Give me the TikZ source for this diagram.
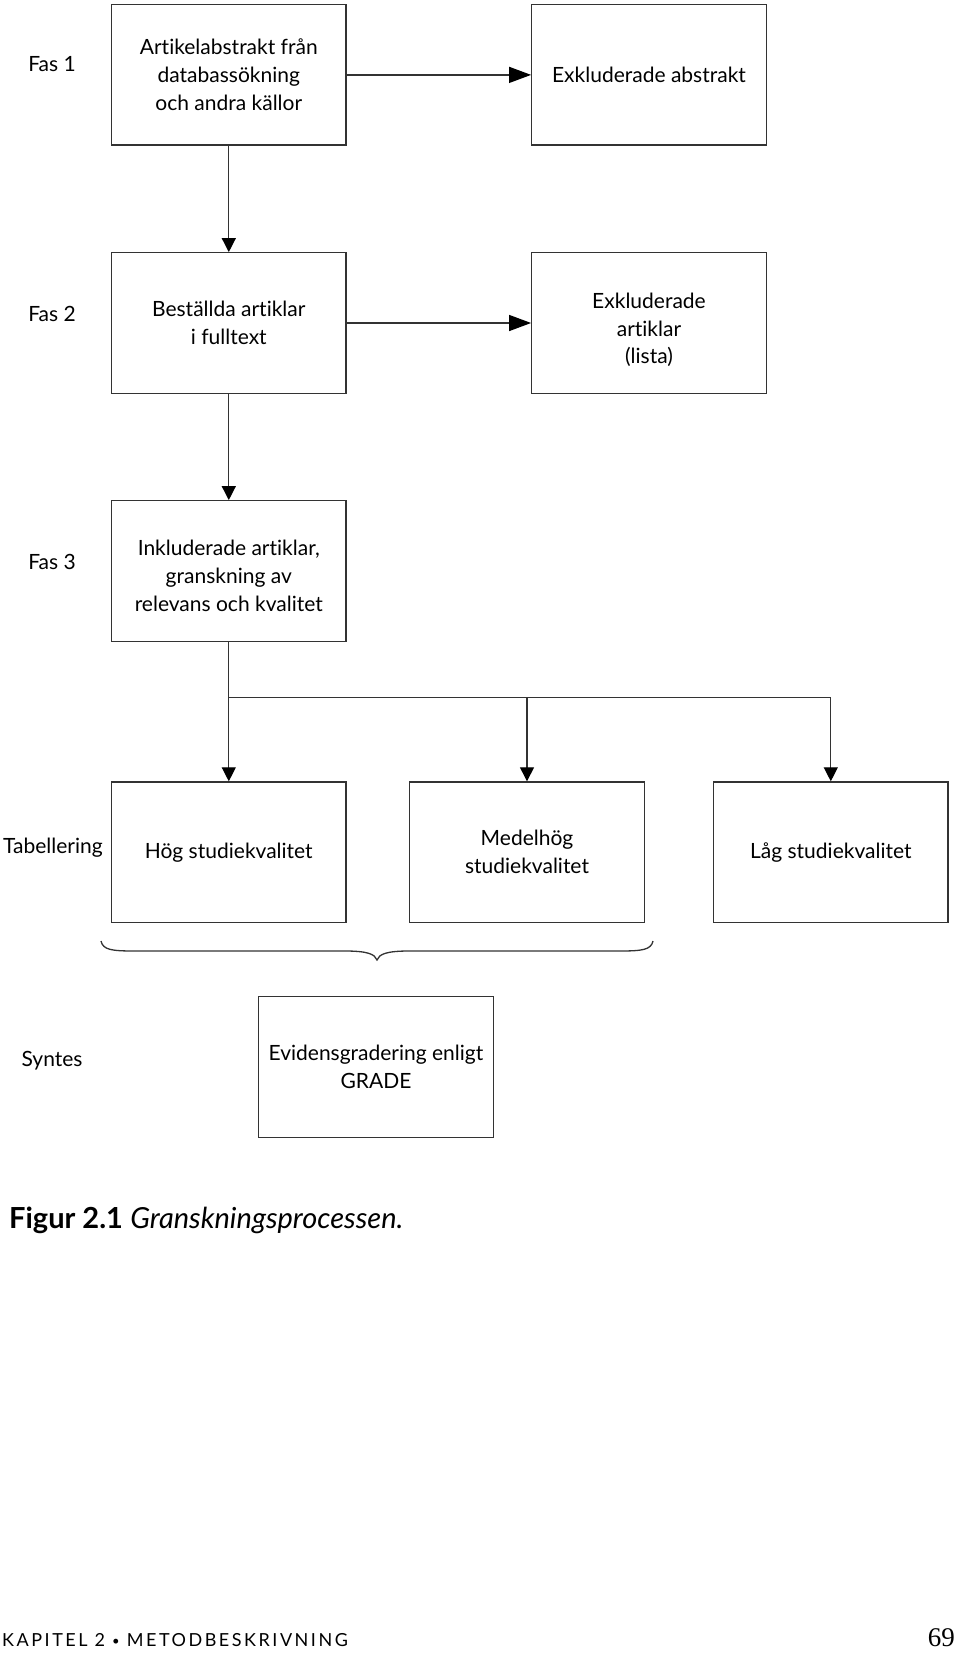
\documentclass[tikz,border=0pt]{standalone}
\usepackage{fontspec}
\setmainfont{Lato}[Ligatures={NoCommon,NoRequired,NoContextual}]
\newfontfamily\numfont{Liberation Serif}
\usetikzlibrary{arrows.meta}
\newcommand\lowerby[2]{\raisebox{-#1}[\height][\depth]{#2}}
\begin{document}
\begin{tikzpicture}[x=1pt,y=-1pt,
  box/.style={draw=black!80,line width=1.3pt,minimum width=234.5pt,minimum height=140.5pt,
    inner sep=0pt,align=center,font=\fontsize{21}{27.8}\selectfont},
  lbl/.style={anchor=base,inner sep=0pt,font=\fontsize{21}{27.8}\selectfont},
  conn/.style={draw=black!80,line width=1.3pt},
  harrow/.style={conn,-{Triangle[length=22pt,width=16pt,black]}},
  varrow/.style={conn,-{Triangle[length=14pt,width=14pt,black]}}]
\useasboundingbox (0,0) rectangle (960,1653);
% boxes
\node[box] (b1) at (228.8,74.9) {Artikelabstrakt från\\databassökning\\och andra källor};
\node[box] (e1) at (649,74.9) {Exkluderade abstrakt};
\node[box] (b2) at (228.8,323) {Beställda artiklar\\i fulltext};
\node[box] (e2) at (649,323) {\lowerby{7pt}{Exkluderade}\\\lowerby{7pt}{artiklar}\\\lowerby{7pt}{(lista)}};
\node[box] (b3) at (228.8,571) {\lowerby{5pt}{Inkluderade artiklar,}\\\lowerby{5pt}{granskning av}\\\lowerby{5pt}{relevans och kvalitet}};
\node[box] (t1) at (228.8,852.2) {Hög studiekvalitet};
\node[box] (t2) at (527,852.2) {Medelhög\\studiekvalitet};
\node[box] (t3) at (830.8,852.2) {Låg studiekvalitet};
\node[box] (s1) at (376,1067) {Evidensgradering enligt\\GRADE};
% phase labels
\node[lbl] (f1) at (52,71.7) {Fas 1};
\node[lbl] (f2) at (52,321.7) {Fas 2};
\node[lbl] (f3) at (52,569.3) {Fas 3};
\node[lbl] (tb) at (53,853.3) {Tabellering};
\node[lbl] (sy) at (52,1066) {Syntes};
% connectors
\draw[harrow] (b1.east) -- (e1.west);
\draw[harrow] (b2.east) -- (e2.west);
\draw[varrow] (b1.south) -- (b2.north);
\draw[varrow] (b2.south) -- (b3.north);
\coordinate (fork) at (228.8,697.7);
\draw[conn] (b3.south) -- (fork) -- (t3.north |- fork);
\draw[varrow] (fork) -- (t1.north);
\draw[varrow] (t2.north |- fork) -- (t2.north);
\draw[varrow] (t3.north |- fork) -- (t3.north);
% brace
\draw[draw=black!80,line width=1.3pt]
  (101,941) .. controls (103,950) and (112,951) .. (135,951) -- (345,951)
  .. controls (367,951) and (375,954) .. (377,960)
  .. controls (379,954) and (387,951) .. (409,951) -- (619,951)
  .. controls (642,951) and (651,950) .. (653,941);
% caption
\node[anchor=base west,inner sep=0pt,font=\fontsize{29}{33}\selectfont] (cap) at (9,1228.3)
  {\textbf{Figur 2.1} \textit{Granskningsprocessen.}};
% footer
\node[anchor=base west,inner sep=0pt,font=\fontsize{18}{22}\selectfont\addfontfeatures{LetterSpace=14}] (foot) at (2,1646.7)
  {KAPITEL 2 {\fontsize{13}{13}\selectfont\raisebox{1.5pt}{•}} METODBESKRIVNING};
\node[anchor=base east,inner sep=0pt,font=\fontsize{27}{30}\numfont] (pg) at (955,1646.7) {69};
\end{tikzpicture}
\end{document}
